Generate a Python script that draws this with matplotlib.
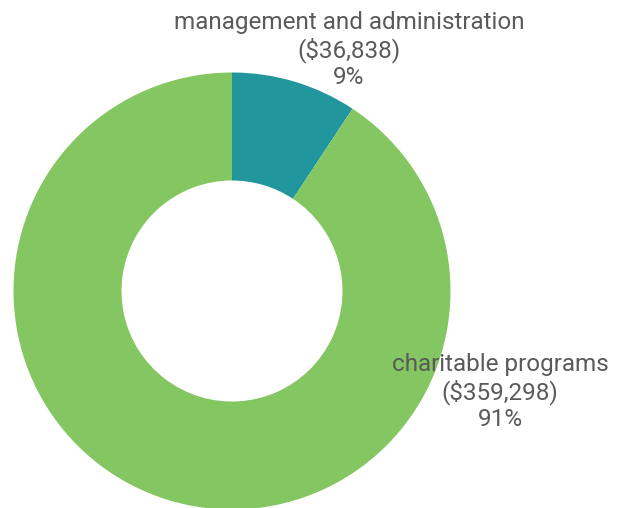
import matplotlib
matplotlib.use('Agg')
import matplotlib.pyplot as plt

# ===== data =====
categories = ['management and administration', 'charitable programs']
amounts = [36838, 359298]
colors = ['#21969c', '#84c661']

total = sum(amounts)
pcts = [a / total * 100 for a in amounts]

plt.rcParams['font.family'] = ['Roboto', 'DejaVu Sans']

fig = plt.figure(figsize=(6.24, 5.08), dpi=100)
ax = fig.add_axes([0, 0, 1, 1])

# donut, drawn clockwise from 12 o'clock (pixel coords, y up)
ax.pie(amounts, colors=colors, startangle=90, counterclock=False,
       center=(232, 508 - 291), radius=218.5,
       wedgeprops=dict(width=108, linewidth=0))

ax.set_xlim(0, 624)
ax.set_ylim(0, 508)
ax.set_aspect('equal')
ax.axis('off')

# labels
label_pos = [(349, 508 - 50), (500, 508 - 392)]
for cat, amt, p, (x, y) in zip(categories, amounts, pcts, label_pos):
    ax.text(x, y, f"{cat}\n(${amt:,})\n{p:.0f}%", ha='center', va='center',
            fontsize=17.5, color='#5a5a5a', fontweight='normal', linespacing=1.18)

# chart title, mostly cut off at the top edge
ax.text(45, 503, 'Expenses', ha='right', va='bottom', fontsize=20,
        fontweight='bold', color='#333333')

fig.savefig('out.png', dpi=100)
